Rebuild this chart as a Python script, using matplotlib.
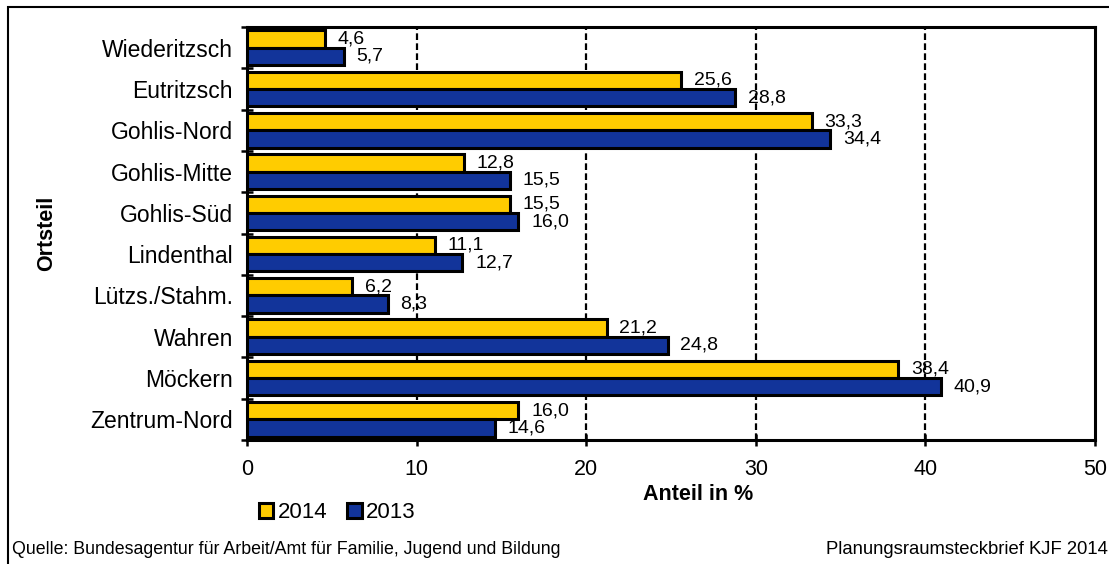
import numpy as np
import matplotlib
matplotlib.use('Agg')
import matplotlib.pyplot as plt
from matplotlib.patches import Patch, Rectangle

plt.rcParams['font.family'] = ['Liberation Sans', 'DejaVu Sans']

# Data
orte = ['Wiederitzsch', 'Eutritzsch', 'Gohlis-Nord', 'Gohlis-Mitte', 'Gohlis-Süd',
        'Lindenthal', 'Lützs./Stahm.', 'Wahren', 'Möckern', 'Zentrum-Nord']
werte_2014 = [4.6, 25.6, 33.3, 12.8, 15.5, 11.1, 6.2, 21.2, 38.4, 16.0]
werte_2013 = [5.7, 28.8, 34.4, 15.5, 16.0, 12.7, 8.3, 24.8, 40.9, 14.6]
x_ticks = [0, 10, 20, 30, 40, 50]

gelb = '#FFCC00'
blau = '#12349A'

fig = plt.figure(figsize=(11.09, 5.64), dpi=100)
ax = fig.add_axes([247 / 1109, 1 - 440 / 564, 848 / 1109, 413 / 564])

y = np.arange(len(orte))
h = 0.42
ax.barh(y - h / 2, werte_2014, height=h, color=gelb, edgecolor='black', linewidth=2.2, zorder=3)
ax.barh(y + h / 2, werte_2013, height=h, color=blau, edgecolor='black', linewidth=2.2, zorder=3)

# Value labels with German decimal comma
for yi, v in zip(y - h / 2, werte_2014):
    ax.text(v + 0.75, yi, f'{v:.1f}'.replace('.', ','), va='center', ha='left', fontsize=14, zorder=4)
for yi, v in zip(y + h / 2, werte_2013):
    ax.text(v + 0.75, yi, f'{v:.1f}'.replace('.', ','), va='center', ha='left', fontsize=14, zorder=4)

ax.set_xlim(0, 50)
ax.set_ylim(len(orte) - 0.5, -0.5)

ax.set_xticks(x_ticks)
ax.set_xticklabels([str(t) for t in x_ticks], fontsize=15.5)
ax.tick_params(axis='x', direction='inout', length=9, width=1.8, pad=9)

ax.set_yticks(y)
ax.set_yticklabels(orte, fontsize=16.5)
ax.set_yticks(np.arange(-0.5, len(orte)), minor=True)
ax.tick_params(axis='y', which='major', length=0, pad=10)
ax.tick_params(axis='y', which='minor', direction='inout', length=9, width=1.8)

for t in x_ticks[1:-1]:
    ax.axvline(t, color='black', linestyle=(0, (3, 1.5)), linewidth=1.6, zorder=1)

for s in ax.spines.values():
    s.set_linewidth(2.2)

fig.text(698 / 1109, 1 - 495 / 564, 'Anteil in %', ha='center', va='center', fontsize=15.5, fontweight='bold')
fig.text(47 / 1109, 1 - 233 / 564, 'Ortsteil', ha='center', va='center', rotation=90,
         fontsize=15.5, fontweight='bold')

handles = [Patch(facecolor=gelb, edgecolor='black', linewidth=2.2, label='2014'),
           Patch(facecolor=blau, edgecolor='black', linewidth=2.2, label='2013')]
fig.legend(handles=handles, loc='center left', bbox_to_anchor=(250 / 1109, 1 - 513 / 564),
           ncol=2, frameon=False, fontsize=16, handlelength=0.65, handleheight=0.65,
           handletextpad=0.2, columnspacing=0.9, borderaxespad=0)

fig.text(12 / 1109, 1 - 550 / 564, 'Quelle: Bundesagentur für Arbeit/Amt für Familie, Jugend und Bildung',
         ha='left', va='center', fontsize=12.8)
fig.text(826 / 1109, 1 - 550 / 564, 'Planungsraumsteckbrief KJF 2014',
         ha='left', va='center', fontsize=13.3)

# outer frame, cut off at right and bottom like the original
fig.add_artist(Rectangle((8 / 1109, -0.5), 1.0, 1.5 - 7 / 564, transform=fig.transFigure,
                         fill=False, edgecolor='black', linewidth=1.5))

fig.savefig('out.png', dpi=100)
